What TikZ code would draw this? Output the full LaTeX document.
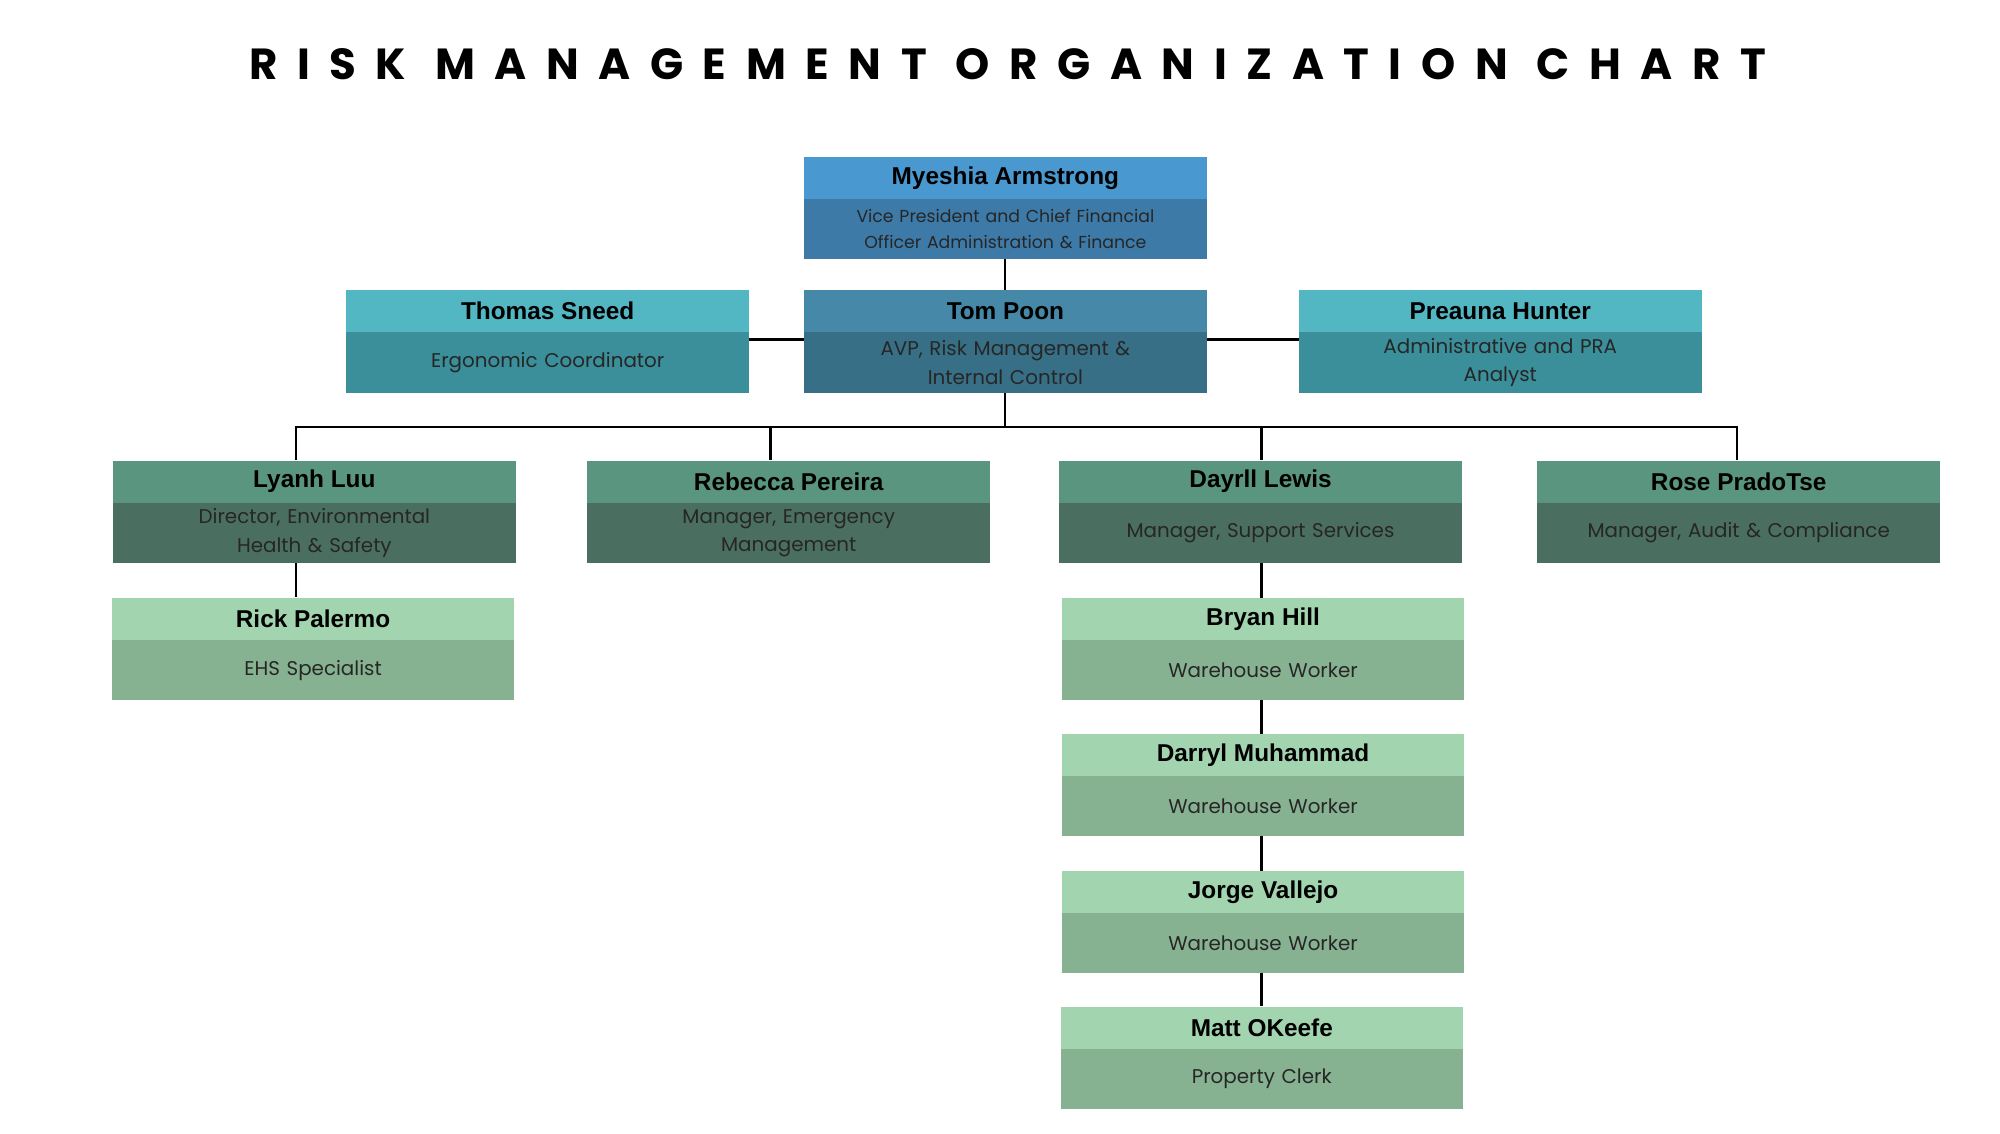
\documentclass[tikz,border=0pt]{standalone}
\usepackage{fontspec}
\setmainfont{Liberation Sans}
\newfontfamily\subf{Poppins}
\newfontfamily\titlef[LetterSpace=45]{Poppins Bold}
\definecolor{topH}{HTML}{4A98D0}\definecolor{topB}{HTML}{3D7AA8}
\definecolor{sideH}{HTML}{52B6C3}\definecolor{sideB}{HTML}{3A8F9A}
\definecolor{avpH}{HTML}{4588A8}\definecolor{avpB}{HTML}{376F86}
\definecolor{mgrH}{HTML}{5A9580}\definecolor{mgrB}{HTML}{4A6F60}
\definecolor{wkH}{HTML}{A3D4B0}\definecolor{wkB}{HTML}{87B292}
\newcommand\orgbox[7]{%
  \node[hd,fill=#4,anchor=north west] (#1h) at (#2,#3) {#6};
  \node[bd,fill=#5,anchor=north west] (#1b) at (#2,#3-33) {#7};
  \coordinate (#1) at ($(#1h.north)!0.5!(#1b.south)$);
}
\usetikzlibrary{calc}
\begin{document}
\begin{tikzpicture}[x=1pt,y=1pt,
  hd/.style={rectangle,inner sep=0pt,minimum width=314pt,minimum height=33pt,font=\fontsize{19}{22}\selectfont\bfseries},
  bd/.style={rectangle,inner sep=0pt,minimum width=314pt,minimum height=47pt,text width=290pt,align=center,font=\subf\fontsize{15.5}{22}\selectfont,text=black!85},
  ln/.style={draw=black,line width=2pt}]
\fill[white] (0,0) rectangle (1560,-884);
\node (title) at (786,-50) {\resizebox{1183pt}{!}{\titlef RISK MANAGEMENT ORGANIZATION CHART}};
% connectors
\draw[ln] (784,-201) -- (784,-226);
\draw[ln] (584,-265) -- (1013,-265);
\draw[ln] (784,-306) -- (784,-333);
\draw[ln] (231,-359) |- (1355,-333) -- (1355,-359);
\draw[ln] (601,-333) -- (601,-359);
\draw[ln] (984,-333) -- (984,-359);
\draw[ln] (231,-439) -- (231,-466);
\draw[ln] (984,-439) -- (984,-785);
% boxes
\node[hd,fill=topH,anchor=north west] (myh) at (627,-122) {Myeshia Armstrong};
\node[bd,fill=topB,anchor=north west,font=\subf\fontsize{13.5}{20}\selectfont,text=black!85] (myb) at (627,-155) {Vice President and Chief Financial\\Officer Administration \& Finance};
\orgbox{ts}{270}{-226}{sideH}{sideB}{Thomas Sneed}{Ergonomic Coordinator}
\orgbox{tp}{627}{-226}{avpH}{avpB}{Tom Poon}{AVP, Risk Management \&\\Internal Control}
\orgbox{ph}{1013}{-226}{sideH}{sideB}{Preauna Hunter}{Administrative and PRA\\Analyst}
\orgbox{ll}{88}{-359}{mgrH}{mgrB}{Lyanh Luu}{Director, Environmental\\Health \& Safety}
\orgbox{rp}{458}{-359}{mgrH}{mgrB}{Rebecca Pereira}{Manager, Emergency\\Management}
\orgbox{dl}{826}{-359}{mgrH}{mgrB}{Dayrll Lewis}{Manager, Support Services}
\orgbox{rs}{1199}{-359}{mgrH}{mgrB}{Rose PradoTse}{Manager, Audit \& Compliance}
\orgbox{rk}{87}{-466}{wkH}{wkB}{Rick Palermo}{EHS Specialist}
\orgbox{bh}{828}{-466}{wkH}{wkB}{Bryan Hill}{Warehouse Worker}
\orgbox{dm}{828}{-572}{wkH}{wkB}{Darryl Muhammad}{Warehouse Worker}
\orgbox{jv}{828}{-679}{wkH}{wkB}{Jorge Vallejo}{Warehouse Worker}
\orgbox{mo}{827}{-785}{wkH}{wkB}{Matt OKeefe}{Property Clerk}
\end{tikzpicture}
\end{document}
